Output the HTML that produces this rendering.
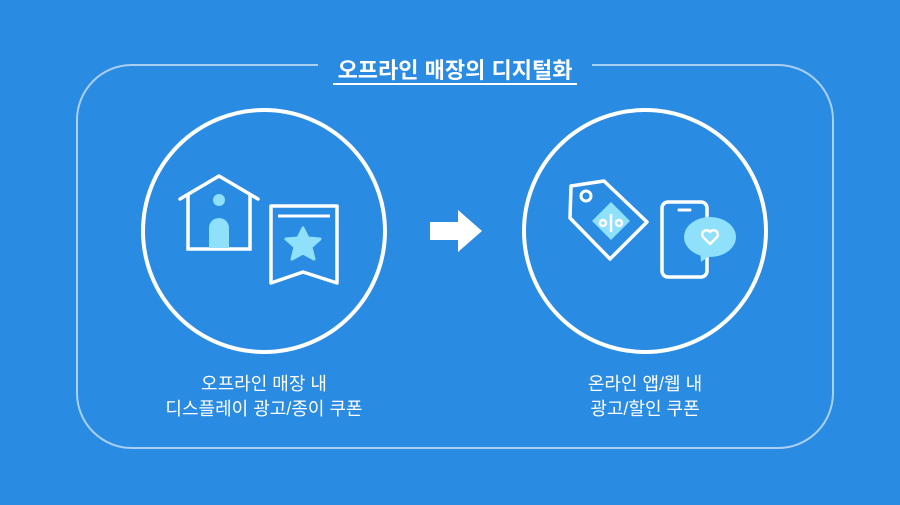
<!DOCTYPE html>
<html><head><meta charset="utf-8"><style>
body{margin:0;width:900px;height:500px;background:#2a8be2;overflow:hidden;font-family:"Liberation Sans","Noto Sans CJK KR",sans-serif}
</style></head><body>
<svg width="900" height="500" viewBox="0 0 900 500" xmlns="http://www.w3.org/2000/svg">
<rect x="77" y="65" width="756" height="383" rx="55" fill="none" stroke="#a9cff3" stroke-width="2"/>
<rect x="318" y="55" width="274" height="30" fill="#2a8be2"/>
<text x="455" y="78" text-anchor="middle" fill="#fff" font-size="22" font-weight="bold" font-family="Liberation Sans,Noto Sans CJK KR,sans-serif">오프라인 매장의 디지털화</text>
<line x1="333" y1="84" x2="577" y2="84" stroke="#fff" stroke-width="2"/>
<circle cx="264" cy="231" r="121" fill="none" stroke="#fff" stroke-width="4"/>
<circle cx="645" cy="231" r="121" fill="none" stroke="#fff" stroke-width="4"/>
<polygon points="430,222 458,222 458,210 482,231 458,252 458,240 430,240" fill="#fff"/>
<polyline points="180,199 219,176 258,199" fill="none" stroke="#fff" stroke-width="3.5" stroke-linecap="round" stroke-linejoin="round"/>
<polyline points="188,194 188,249 250,249 250,194" fill="none" stroke="#fff" stroke-width="3.5"/>
<circle cx="219" cy="200" r="6" fill="#8ee0fb"/>
<path d="M209,248 V228 a10,10 0 0 1 20,0 V248 Z" fill="#8ee0fb"/>
<polygon points="271,206 337,206 337,283 303,272 271,283" fill="none" stroke="#fff" stroke-width="3.5" stroke-linejoin="round"/>
<line x1="278" y1="216" x2="330" y2="216" stroke="#fff" stroke-width="3"/>
<polygon points="303,228 308,238 320,239 311,247 314,259 303,253 292,259 295,247 286,239 298,238" fill="#8ee0fb" stroke="#8ee0fb" stroke-width="3" stroke-linejoin="round"/>
<polygon points="571,186 604,181 647,222 610,259 570,218" fill="none" stroke="#fff" stroke-width="3.5" stroke-linejoin="round"/>
<circle cx="586" cy="196" r="5" fill="none" stroke="#fff" stroke-width="3"/>
<polygon points="611,202 630,221 611,240 592,221" fill="#8ee0fb"/>
<circle cx="603" cy="223" r="3" fill="none" stroke="#fff" stroke-width="2.5"/>
<circle cx="619" cy="223" r="3" fill="none" stroke="#fff" stroke-width="2.5"/>
<line x1="611" y1="214" x2="611" y2="232" stroke="#fff" stroke-width="2.5"/>
<rect x="662" y="202" width="45" height="75" rx="6" fill="none" stroke="#fff" stroke-width="3.5"/>
<line x1="679" y1="210" x2="690" y2="210" stroke="#fff" stroke-width="3" stroke-linecap="round"/>
<ellipse cx="710" cy="237" rx="26" ry="20" fill="#8ee0fb"/>
<polygon points="700,250 712,254 701,262" fill="#8ee0fb"/>
<path d="M710,244 l-7,-7 a4,4 0 0 1 7,-5 a4,4 0 0 1 7,5 Z" fill="none" stroke="#fff" stroke-width="2.5" stroke-linejoin="round"/>
<g fill="#fff" font-size="18" text-anchor="middle" font-family="Liberation Sans,Noto Sans CJK KR,sans-serif">
<text x="264" y="390">오프라인 매장 내</text>
<text x="264" y="415">디스플레이 광고/종이 쿠폰</text>
<text x="645" y="390">온라인 앱/웹 내</text>
<text x="645" y="415">광고/할인 쿠폰</text>
</g>
</svg>
</body></html>
